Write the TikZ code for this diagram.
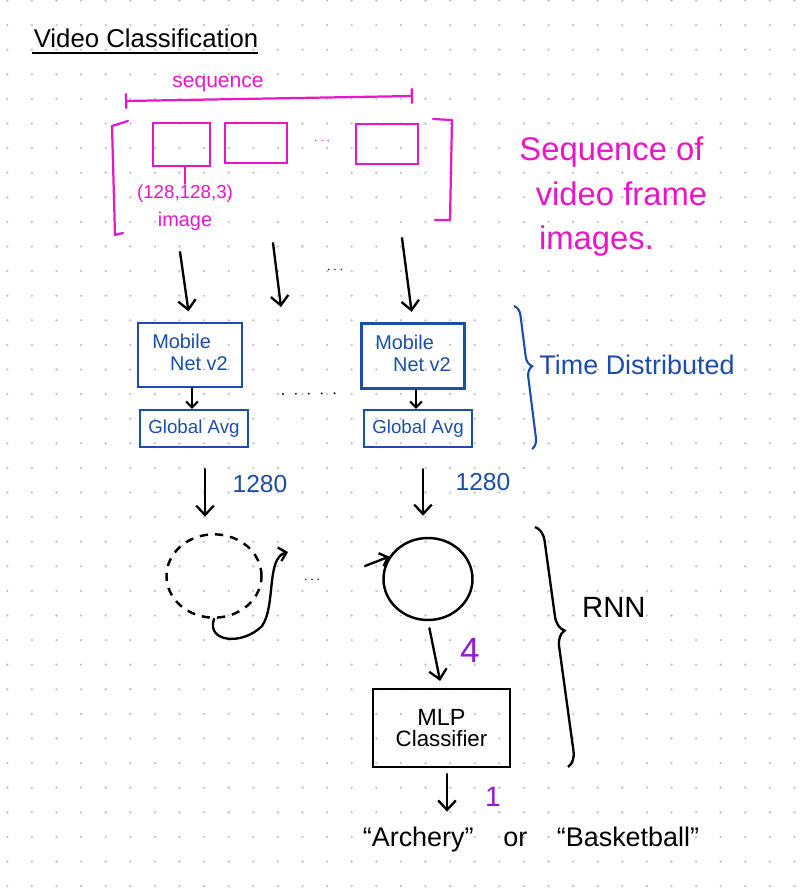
\documentclass[tikz,border=0pt]{standalone}
\usepackage{fontspec}
\setmainfont{Liberation Sans}
\usetikzlibrary{shapes.geometric, arrows.meta, calc, decorations.pathreplacing}
\definecolor{cPink}{RGB}{232,22,200}
\definecolor{cBlue}{RGB}{28,78,168}
\definecolor{cPurple}{RGB}{150,25,205}
\definecolor{cDot}{RGB}{190,195,210}
\tikzset{
	frame/.style   ={rectangle, draw=cPink, line width=1.8pt, inner sep=0pt},
	netbox/.style  ={rectangle, draw=cBlue, line width=2pt, text=cBlue, inner sep=0pt, align=center},
	cell/.style    ={ellipse, draw=black, line width=2.1pt, inner sep=0pt},
	mlpbox/.style  ={rectangle, draw=black, line width=2pt, inner sep=0pt, align=center},
	flow/.style    ={-{Straight Barb[length=8pt, width=15pt]}, line width=2pt, line cap=round},
	pinkline/.style={draw=cPink, line width=1.9pt, line cap=round, line join=round},
	bluebrace/.style={decorate, decoration={brace, amplitude=9pt, aspect=0.43}, draw=cBlue, line width=1.8pt},
	blackbrace/.style={decorate, decoration={brace, amplitude=13pt, aspect=0.44}, draw=black, line width=2pt},
	% text styles
	pinktxt/.style ={text=cPink, inner sep=1pt},
	bluetxt/.style ={text=cBlue, inner sep=1pt},
	purpletxt/.style={text=cPurple, inner sep=1pt},
}

\begin{document}
\begin{tikzpicture}[x=0.03cm, y=-0.03cm]
	\useasboundingbox (0,0) rectangle (806,895);
	\fill[white] (0,0) rectangle (806,895);
	% dot grid
	\foreach \i in {0,...,32}
		\foreach \j in {0,...,36}
			\fill[cDot] (7.3+24.6*\i, 0.5+24.6*\j) circle (1.1pt);
	% title
	\node[inner sep=1pt, font=\fontsize{22}{26}\selectfont] (title) at (146,38) {Video Classification};
	\draw[line width=2pt] (32,53) -- (258,53);
	% sequence span
	\node[pinktxt, font=\fontsize{18}{20}\selectfont] (seqtxt) at (218,84) {sequence};
	\coordinate (seqL) at (125,101);
	\coordinate (seqR) at (413,96);
	\draw[pinkline, {Bar[width=13pt]}-{Bar[width=13pt]}] (seqL) -- (seqR);
	% brackets
	\draw[pinkline] (128,121) -- (112,126) -- (115,235) -- (123,233);
	\draw[pinkline] (433,119) -- (452,120) -- (450,220) -- (435,220);
	% frames
	\node[frame, minimum width=1.71cm, minimum height=1.29cm] (fA) at (181.5,144.5) {};
	\node[frame, minimum width=1.86cm, minimum height=1.20cm] (fB) at (256,143) {};
	\node[frame, minimum width=1.86cm, minimum height=1.20cm] (fC) at (387,144) {};
	\node[text=cPink, font=\large] (fdots) at (322,141) {$\cdots$};
	\node[pinktxt, font=\fontsize{16}{18}\selectfont] (fsize) at (185,194) {(128,128,3)};
	\node[pinktxt, font=\fontsize{17}{19}\selectfont] (fimg) at (185,221) {image};
	\draw[pinkline] (fA.south -| fsize) -- (fsize.north);
	% note
	\node[pinktxt, anchor=west, align=left, font=\fontsize{28}{38}\selectfont] (note) at (518,197)
		{Sequence of\\\hspace*{0.5em}video frame\\\hspace*{0.6em}images.};
	% frames to MobileNet
	\node[netbox, minimum width=3.12cm, minimum height=1.92cm, font=\fontsize{17}{19}\selectfont] (mnA) at (190,355)
		{\begin{tabular}{@{}l@{}}Mobile\\\hspace*{0.9em}Net v2\end{tabular}};
	\node[netbox, minimum width=3.24cm, minimum height=1.11cm, font=\fontsize{16}{18}\selectfont] (gaA) at (194,428.5) {Global Avg};
	\node[netbox, minimum width=3.09cm, minimum height=1.95cm, font=\fontsize{17}{19}\selectfont] (mnB) at (413,356)
		{\begin{tabular}{@{}l@{}}Mobile\\\hspace*{0.9em}Net v2\end{tabular}};
	\node[netbox, minimum width=3.24cm, minimum height=1.11cm, font=\fontsize{16}{18}\selectfont] (gaB) at (418,428.5) {Global Avg};
	\coordinate (aAs) at (180,252);
	\coordinate (aBs) at (273,243);
	\coordinate (aBe) at (281,307);
	\coordinate (aCs) at (402,238);
	\draw[flow, shorten >=9pt] (aAs) -- (mnA.north);
	\draw[flow] (aBs) -- (aBe);
	\draw[flow, shorten >=9pt] (aCs) -- (mnB.north);
	\node[font=\large] (adots) at (335,270) {$\cdots$};
	\draw[flow, -{Straight Barb[length=5pt, width=10pt]}, line width=1.8pt] (mnA.south -| 192,0) -- (gaA.north -| 192,0);
	\draw[flow, -{Straight Barb[length=5pt, width=10pt]}, line width=1.8pt] (mnB.south -| 416,0) -- (gaB.north -| 416,0);
	\draw[line width=1.8pt, line cap=round, dash pattern=on 0pt off 11pt] (283,394) -- (347,393);
	% time distributed
	\draw[bluebrace] (514,306) -- (532,449);
	\node[bluetxt, anchor=west, font=\fontsize{23}{26}\selectfont] (tdist) at (538,365) {Time Distributed};
	% RNN cells
	\node[cell, dashed, dash pattern=on 7pt off 6pt, minimum width=2.85cm, minimum height=2.50cm] (cellA) at (214,576) {};
	\node[cell, minimum width=2.67cm, minimum height=2.46cm] (cellB) at (428,579) {};
	\draw[flow, shorten <=18pt, shorten >=14pt] (gaA.south -| 205,0) -- (cellA.north -| 205,0);
	\draw[flow, shorten <=18pt, shorten >=18pt] (gaB.south -| 423,0) -- (cellB.north -| 423,0);
	\node[bluetxt, font=\fontsize{21}{24}\selectfont] (dimA) at (260,484) {1280};
	\node[bluetxt, font=\fontsize{21}{24}\selectfont] (dimB) at (483,482) {1280};
	\draw[flow, -{Straight Barb[length=6pt, width=12pt]}] (cellA.south) .. controls (206,642) and (242,646) .. (262,626)
		.. controls (276,606) and (266,558) .. (288,552);
	\coordinate (recB) at (365,566);
	\draw[flow, -{Straight Barb[length=6pt, width=12pt]}] (recB) -- (cellB.150);
	\node[font=\large] (cdots) at (312,580) {$\cdots$};
	% classifier
	\node[mlpbox, minimum width=4.11cm, minimum height=2.34cm] (mlp) at (441.5,728)
		{\fontsize{20}{24}\selectfont MLP\\[3pt]\fontsize{19}{22}\selectfont Classifier};
	\draw[flow, shorten <=6pt, shorten >=6pt] (cellB.south) -- (mlp.north);
	\node[purpletxt, font=\fontsize{30}{32}\selectfont] (dimC) at (470,650) {4};
	\node[font=\fontsize{23}{26}\selectfont] (out) at (531,840) {“Archery”\hspace{1.1em}or\hspace{1.1em}“Basketball”};
	\draw[flow, shorten <=5pt, shorten >=10pt] (mlp.south -| 447,0) -- (out.north -| 447,0);
	\node[purpletxt, font=\fontsize{24}{26}\selectfont] (dimD) at (493,797) {1};
	% rnn brace
	\draw[blackbrace] (535,527) -- (568,767);
	\node[anchor=west, font=\fontsize{25}{28}\selectfont] (rnn) at (578,607) {RNN};
\end{tikzpicture}
\end{document}
